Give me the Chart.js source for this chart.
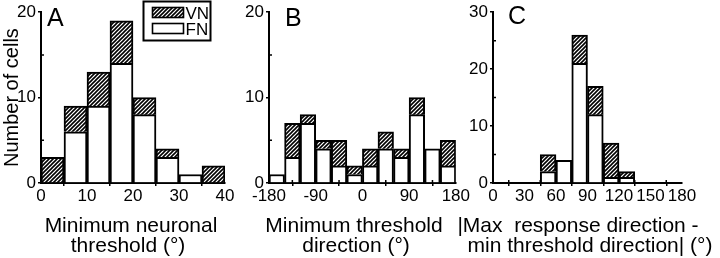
<!DOCTYPE html>
<html>
<head>
<meta charset="utf-8">
<script src="https://cdn.jsdelivr.net/npm/chart.js@4/dist/chart.umd.min.js"></script>
<style>
  html, body { margin: 0; padding: 0; background: #fff; }
  #wrap { position: relative; width: 720px; height: 258px; overflow: hidden; }
  #wrap canvas { position: absolute; top: 0; }
</style>
</head>
<body>
<div id="wrap">
  <canvas id="chart-a" width="240" height="258" style="left:0px"></canvas>
  <canvas id="chart-b" width="230" height="258" style="left:240px"></canvas>
  <canvas id="chart-c" width="280" height="258" style="left:440px"></canvas>
</div>
<script>
// series names (legend shows VN on top, FN below)
const SERIES_FN = "FN";
const SERIES_VN = "VN";

// A: minimum neuronal threshold (5° bins, centres)
const thresholdBins = [2.5, 7.5, 12.5, 17.5, 22.5, 27.5, 32.5, 37.5];
const thresholdFN = [0, 6, 9, 14, 8, 3, 1, 0];
const thresholdVN = [3, 3, 4, 5, 2, 1, 0, 2];
const thresholdTicks = [0, 10, 20, 30, 40];

// B: minimum threshold direction (30° bins, centres)
const directionBins = [-165, -135, -105, -75, -45, -15, 15, 45, 75, 105, 135, 165];
const directionFN = [1, 3, 7, 4, 2, 1, 2, 4, 3, 8, 4, 2];
const directionVN = [0, 4, 1, 1, 3, 1, 2, 2, 1, 2, 0, 3];
const directionTicks = [-180, -90, 0, 90, 180];

// C: |max response direction - min threshold direction| (15° bins, centres)
const differenceBins = [52.5, 67.5, 82.5, 97.5, 112.5, 127.5];
const differenceFN = [2, 4, 21, 12, 1, 1];
const differenceVN = [3, 0, 5, 5, 6, 1];
const differenceTicks = [0, 30, 60, 90, 120, 150, 180];

const countTicks20 = [0, 10, 20];
const countTicks30 = [0, 10, 20, 30];

const FONT = '"Liberation Sans", Arial, Helvetica, sans-serif';

function makeHatch() {
  const c = document.createElement("canvas");
  c.width = 4; c.height = 4;
  const g = c.getContext("2d");
  g.fillStyle = "#fff";
  g.fillRect(0, 0, 4, 4);
  g.strokeStyle = "#000";
  g.lineWidth = 1.6;
  g.beginPath();
  g.moveTo(-1, 5); g.lineTo(5, -1);
  g.moveTo(-1, 1); g.lineTo(1, -1);
  g.moveTo(3, 5); g.lineTo(5, 3);
  g.stroke();
  return g.createPattern(c, "repeat");
}
const HATCH = makeHatch();

const toPoints = (bins, values) => bins.map((x, i) => ({ x, y: values[i] || null }));

// panel letter, two-line x title and optional legend box
const decorPlugin = {
  id: "decor",
  afterDraw(chart, args, opts) {
    const ctx = chart.ctx;
    ctx.save();
    ctx.fillStyle = "#000";
    ctx.textBaseline = "alphabetic";
    ctx.font = `25px ${FONT}`;
    ctx.fillText(opts.letter, opts.letterX, opts.letterY);

    ctx.font = `21px ${FONT}`;
    ctx.textAlign = "center";
    opts.title.forEach((line, i) => ctx.fillText(line.text, line.cx, 232 + i * 20));
    ctx.textAlign = "left";

    if (opts.legend) {
      const L = opts.legend;
      ctx.lineWidth = 2;
      ctx.strokeStyle = "#000";
      ctx.strokeRect(L.x, L.y, L.w, L.h);
      ctx.font = `17px ${FONT}`;
      [[SERIES_VN, HATCH], [SERIES_FN, "#fff"]].forEach(([name, fill], i) => {
        const y = L.y + 6 + i * 16;
        ctx.fillStyle = fill;
        ctx.fillRect(L.x + 9, y, 31, 10);
        ctx.lineWidth = 1.6;
        ctx.strokeRect(L.x + 9, y, 31, 10);
        ctx.fillStyle = "#000";
        ctx.fillText(name, L.x + 42, y + 11);
      });
    }
    ctx.restore();
  }
};

// small inward minor ticks halfway between major ticks
const minorTickPlugin = {
  id: "minorTicks",
  afterDatasetsDraw(chart) {
    const ctx = chart.ctx;
    const { x, y } = chart.scales;
    ctx.save();
    ctx.strokeStyle = "#000";
    ctx.lineWidth = 1.5;
    ctx.beginPath();
    for (let i = 1; i < x.ticks.length; i++) {
      const px = x.getPixelForValue((x.ticks[i - 1].value + x.ticks[i].value) / 2);
      ctx.moveTo(px, y.bottom);
      ctx.lineTo(px, y.bottom - 3);
    }
    for (let i = 1; i < y.ticks.length; i++) {
      const py = y.getPixelForValue((y.ticks[i - 1].value + y.ticks[i].value) / 2);
      ctx.moveTo(x.left, py);
      ctx.lineTo(x.left + 3, py);
    }
    ctx.stroke();
    ctx.restore();
  }
};

function axisBase(ticks, fitKey, fitValue, pad) {
  return {
    border: { display: true, color: "#000", width: 2 },
    grid: { display: true, drawOnChartArea: false, drawTicks: true, tickLength: 3, color: "#000", lineWidth: 1.5 },
    ticks: { color: "#000", font: { family: FONT, size: 17 }, padding: pad, maxRotation: 0, autoSkip: false },
    afterBuildTicks: s => { s.ticks = ticks.map(v => ({ value: v })); },
    afterFit: s => { s[fitKey] = fitValue; }
  };
}

function buildChart(id, cfg) {
  const xAxis = axisBase(cfg.xTicks, "height", 75, 0);
  Object.assign(xAxis, {
    type: "linear", stacked: true, offset: false,
    min: cfg.xTicks[0], max: cfg.xTicks[cfg.xTicks.length - 1]
  });
  const yAxis = axisBase(cfg.yTicks, "width", cfg.yWidth, 2);
  Object.assign(yAxis, {
    type: "linear", stacked: true,
    min: cfg.yTicks[0], max: cfg.yTicks[cfg.yTicks.length - 1],
    title: {
      display: !!cfg.yTitle, text: cfg.yTitle || "", color: "#000",
      font: { family: FONT, size: 20, lineHeight: 1 }, padding: { top: 2, bottom: 0 }
    }
  });
  return new Chart(document.getElementById(id), {
    type: "bar",
    data: {
      datasets: [
        { label: SERIES_FN, data: toPoints(cfg.bins, cfg.fn), backgroundColor: "#fff", borderColor: "#000", borderWidth: 2 },
        { label: SERIES_VN, data: toPoints(cfg.bins, cfg.vn), backgroundColor: HATCH, borderColor: "#000", borderWidth: 2 }
      ]
    },
    options: {
      responsive: false,
      animation: false,
      devicePixelRatio: 1,
      barPercentage: 1,
      categoryPercentage: 1,
      layout: { padding: cfg.padding },
      plugins: {
        legend: { display: false },
        tooltip: { enabled: false },
        decor: cfg.decor
      },
      scales: { x: xAxis, y: yAxis }
    },
    plugins: [decorPlugin, minorTickPlugin]
  });
}

buildChart("chart-a", {
  bins: thresholdBins, fn: thresholdFN, vn: thresholdVN,
  xTicks: thresholdTicks, yTicks: countTicks20, yWidth: 41, yTitle: "Number of cells",
  padding: { left: 0, right: 15, top: 10, bottom: 0 },
  decor: {
    letter: "A", letterX: 47, letterY: 26,
    title: [{ text: "Minimum neuronal", cx: 131 }, { text: "threshold (°)", cx: 128 }],
    legend: { x: 143.5, y: 1.5, w: 67, h: 39 }
  }
});

buildChart("chart-b", {
  bins: directionBins, fn: directionFN, vn: directionVN,
  xTicks: directionTicks, yTicks: countTicks20, yWidth: 29,
  padding: { left: 0, right: 14, top: 10, bottom: 0 },
  decor: {
    letter: "B", letterX: 45, letterY: 26,
    title: [{ text: "Minimum threshold", cx: 114 }, { text: "direction (°)", cx: 116 }]
  }
});

buildChart("chart-c", {
  bins: differenceBins, fn: differenceFN, vn: differenceVN,
  xTicks: differenceTicks, yTicks: countTicks30, yWidth: 53,
  padding: { left: 0, right: 38, top: 9, bottom: 0 },
  decor: {
    letter: "C", letterX: 68, letterY: 24,
    title: [{ text: "|Max  response direction -", cx: 138 }, { text: "min threshold direction| (°)", cx: 150 }]
  }
});
</script>
</body>
</html>
